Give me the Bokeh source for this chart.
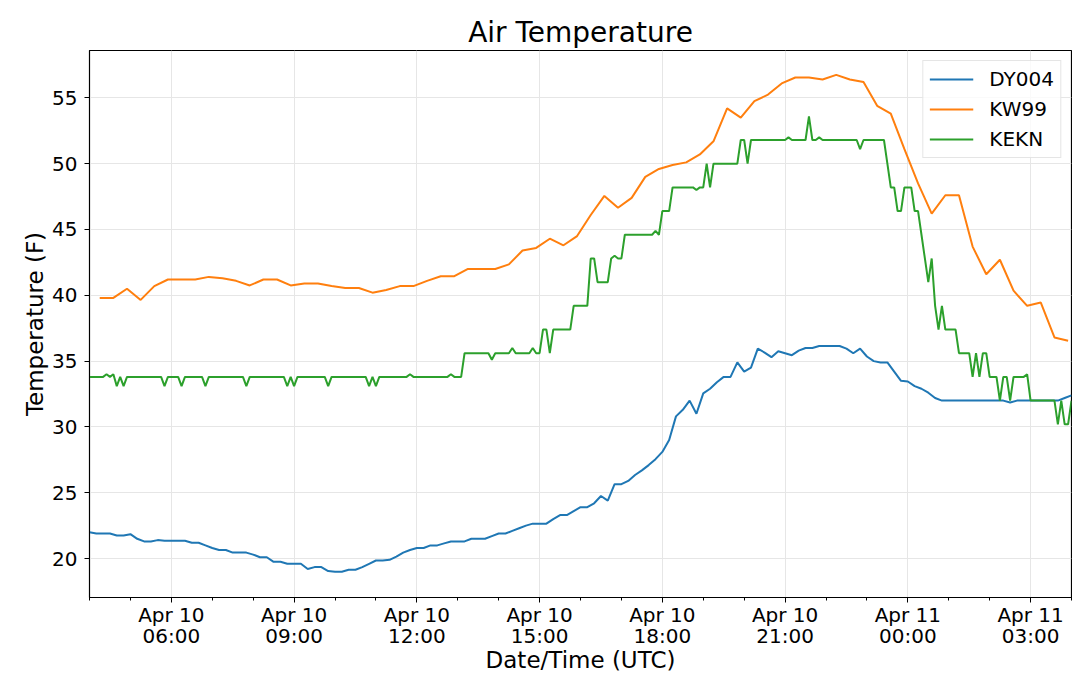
import pandas as pd
from bokeh.plotting import figure
from bokeh.models import Range1d, FixedTicker, DatetimeTickFormatter, Legend, LegendItem
from bokeh.embed import file_html
from bokeh.resources import INLINE

FONT = "DejaVu Sans"

# time window shown (UTC)
t_start = pd.Timestamp("2018-04-10 04:00")
t_end = pd.Timestamp("2018-04-11 04:00")

# DY004: 10-minute observations, 04:00 -> 04:00 (one row per hour)
dy004_temp = [
    22.0, 21.9, 21.9, 21.9, 21.75, 21.75,    # 04
    21.85, 21.5, 21.3, 21.3, 21.4, 21.35,    # 05
    21.35, 21.35, 21.35, 21.2, 21.2, 21.0,   # 06
    20.8, 20.65, 20.65, 20.45, 20.45, 20.45, # 07
    20.3, 20.1, 20.1, 19.75, 19.75, 19.6,    # 08
    19.6, 19.6, 19.2, 19.35, 19.35, 19.05,   # 09
    19.0, 19.0, 19.15, 19.15, 19.35, 19.6,   # 10
    19.85, 19.85, 19.9, 20.15, 20.45, 20.65, # 11
    20.8, 20.8, 21.0, 21.0, 21.15, 21.3,     # 12
    21.3, 21.3, 21.5, 21.5, 21.5, 21.7,      # 13
    21.9, 21.9, 22.1, 22.3, 22.5, 22.65,     # 14
    22.65, 22.65, 23.0, 23.3, 23.3, 23.6,    # 15
    23.9, 23.9, 24.2, 24.75, 24.4, 25.65,    # 16
    25.65, 25.9, 26.35, 26.7, 27.1, 27.55,   # 17
    28.1, 29.0, 30.8, 31.3, 32.0, 31.0,      # 18
    32.55, 32.9, 33.4, 33.8, 33.8, 34.9,     # 19
    34.2, 34.5, 35.95, 35.65, 35.3, 35.75,   # 20
    35.6, 35.45, 35.8, 36.0, 36.0, 36.15,    # 21
    36.15, 36.15, 36.15, 35.95, 35.6, 35.95, # 22
    35.35, 35.0, 34.9, 34.9, 34.2, 33.5,     # 23
    33.45, 33.1, 32.9, 32.6, 32.2, 32.0,     # 00
    32.0, 32.0, 32.0, 32.0, 32.0, 32.0,      # 01
    32.0, 32.0, 32.0, 31.85, 32.0, 32.0,     # 02
    32.0, 32.0, 32.0, 32.0, 32.0, 32.2,      # 03
    32.4,
]

# KW99: 20-minute observations at :15 :35 :55
kw99_temp = [
    39.8, 39.8, 40.5,     # 04
    39.65, 40.7, 41.2,    # 05
    41.2, 41.2, 41.4,     # 06
    41.3, 41.1, 40.75,    # 07
    41.2, 41.2, 40.75,    # 08
    40.9, 40.9, 40.7,     # 09
    40.55, 40.55, 40.2,   # 10
    40.4, 40.7, 40.7,     # 11
    41.1, 41.45, 41.45,   # 12
    42.0, 42.0, 42.0,     # 13
    42.35, 43.4, 43.6,    # 14
    44.3, 43.8, 44.5,     # 15
    46.1, 47.55, 46.65,   # 16
    47.4, 49.0, 49.6,     # 17
    49.9, 50.1, 50.7,     # 18
    51.7, 54.2, 53.5,     # 19
    54.75, 55.25, 56.1,   # 20
    56.55, 56.55, 56.4,   # 21
    56.75, 56.4, 56.2,    # 22
    54.4, 53.8, 51.1,     # 23
    48.5, 46.2, 47.6,     # 00
    47.6, 43.7, 41.6,     # 01
    42.7, 40.35, 39.2,    # 02
    39.45, 36.8, 36.55,   # 03
]

# KEKN: 5-minute observations, 04:00 -> 04:00
kekn_temp = [
    33.8, 33.8, 33.8, 33.8, 33.8, 34.0, 33.8, 34.0, 33.1, 33.8, 33.1, 33.8,  # 04
    33.8, 33.8, 33.8, 33.8, 33.8, 33.8, 33.8, 33.8, 33.8, 33.8, 33.1, 33.8,  # 05
    33.8, 33.8, 33.8, 33.1, 33.8, 33.8, 33.8, 33.8, 33.8, 33.8, 33.1, 33.8,  # 06
    33.8, 33.8, 33.8, 33.8, 33.8, 33.8, 33.8, 33.8, 33.8, 33.8, 33.1, 33.8,  # 07
    33.8, 33.8, 33.8, 33.8, 33.8, 33.8, 33.8, 33.8, 33.8, 33.8, 33.1, 33.8,  # 08
    33.1, 33.8, 33.8, 33.8, 33.8, 33.8, 33.8, 33.8, 33.8, 33.8, 33.1, 33.8,  # 09
    33.8, 33.8, 33.8, 33.8, 33.8, 33.8, 33.8, 33.8, 33.8, 33.8, 33.1, 33.8,  # 10
    33.1, 33.8, 33.8, 33.8, 33.8, 33.8, 33.8, 33.8, 33.8, 33.8, 34.0, 33.8,  # 11
    33.8, 33.8, 33.8, 33.8, 33.8, 33.8, 33.8, 33.8, 33.8, 33.8, 34.0, 33.8,  # 12
    33.8, 33.8, 35.6, 35.6, 35.6, 35.6, 35.6, 35.6, 35.6, 35.6, 35.1, 35.6,  # 13
    35.6, 35.6, 35.6, 35.6, 36.0, 35.6, 35.6, 35.6, 35.6, 35.6, 36.0, 35.6,  # 14
    35.6, 37.4, 37.4, 35.6, 37.4, 37.4, 37.4, 37.4, 37.4, 37.4, 39.2, 39.2,  # 15
    39.2, 39.2, 39.2, 42.8, 42.8, 41.0, 41.0, 41.0, 41.0, 42.8, 43.0, 42.8,  # 16
    42.8, 44.6, 44.6, 44.6, 44.6, 44.6, 44.6, 44.6, 44.6, 44.6, 44.9, 44.6,  # 17
    46.4, 46.4, 46.4, 48.2, 48.2, 48.2, 48.2, 48.2, 48.2, 48.2, 48.0, 48.2,  # 18
    48.2, 50.0, 48.2, 50.0, 50.0, 50.0, 50.0, 50.0, 50.0, 50.0, 50.0, 51.8,  # 19
    51.8, 50.0, 51.8, 51.8, 51.8, 51.8, 51.8, 51.8, 51.8, 51.8, 51.8, 51.8,  # 20
    51.8, 52.0, 51.8, 51.8, 51.8, 51.8, 51.8, 53.6, 51.8, 51.8, 52.0, 51.8,  # 21
    51.8, 51.8, 51.8, 51.8, 51.8, 51.8, 51.8, 51.8, 51.8, 51.8, 51.1, 51.8,  # 22
    51.8, 51.8, 51.8, 51.8, 51.8, 51.8, 50.0, 48.2, 48.2, 46.4, 46.4, 48.2,  # 23
    48.2, 48.2, 46.4, 46.4, 44.6, 42.8, 41.0, 42.8, 39.2, 37.4, 39.2, 37.4,  # 00
    37.4, 37.4, 37.4, 35.6, 35.6, 35.6, 35.6, 33.8, 35.6, 33.8, 35.6, 35.6,  # 01
    33.8, 33.8, 33.8, 32.0, 33.8, 33.8, 32.0, 33.8, 33.8, 33.8, 33.8, 34.0,  # 02
    32.0, 32.0, 32.0, 32.0, 32.0, 32.0, 32.0, 32.0, 30.2, 32.0, 30.2, 30.2,  # 03
    32.0,
]

dy004_time = pd.date_range("2018-04-10 04:00", periods=len(dy004_temp), freq="10min")
kw99_time = pd.date_range("2018-04-10 04:15", periods=len(kw99_temp), freq="20min")
kekn_time = pd.date_range("2018-04-10 04:00", periods=len(kekn_temp), freq="5min")

# axis ticks: labelled every 3 hours, small ticks every hour
major_ticks = pd.date_range("2018-04-10 06:00", "2018-04-11 03:00", freq="3h")
minor_ticks = pd.date_range(t_start, t_end, freq="1h")
y_ticks = [20, 25, 30, 35, 40, 45, 50, 55]


def to_ms(idx):
    return [int(t.value // 10**6) for t in idx]


p = figure(title="Air Temperature",
           width=1072, height=676,
           x_axis_type="datetime",
           x_range=Range1d(t_start, t_end),
           y_range=Range1d(17.04, 58.6),
           x_axis_label="Date/Time (UTC)",
           y_axis_label="Temperature (F)",
           output_backend="svg",
           toolbar_location=None,
           min_border_left=89, min_border_right=1,
           min_border_top=50, min_border_bottom=76)

colors = ["#1f77b4", "#ff7f0e", "#2ca02c"]
r1 = p.line(dy004_time, dy004_temp, color=colors[0], line_width=2)
r2 = p.line(kw99_time, kw99_temp, color=colors[1], line_width=2)
r3 = p.line(kekn_time, kekn_temp, color=colors[2], line_width=2)

# title
p.title.align = "center"
p.title.text_font = FONT
p.title.text_font_size = "28px"
p.title.text_font_style = "normal"
p.title.text_color = "black"
p.title.standoff = 4

# frame
p.outline_line_color = "black"
p.outline_line_width = 1.2
p.background_fill_color = "white"
p.border_fill_color = "white"

# axes
p.xaxis.ticker = FixedTicker(ticks=to_ms(major_ticks), minor_ticks=to_ms(minor_ticks))
fmt = "%b %d\n%H:%M"
p.xaxis.formatter = DatetimeTickFormatter(hours=fmt, hourmin=fmt, days=fmt, minutes=fmt,
                                          minsec=fmt, seconds=fmt, months=fmt)
p.yaxis.ticker = FixedTicker(ticks=y_ticks)
for ax in (p.xaxis, p.yaxis):
    ax.axis_line_color = "black"
    ax.major_tick_line_color = "black"
    ax.minor_tick_line_color = "black"
    ax.major_tick_out = 5
    ax.major_tick_in = 0
    ax.minor_tick_out = 3
    ax.minor_tick_in = 0
    ax.major_label_text_font = FONT
    ax.major_label_text_font_size = "20px"
    ax.major_label_text_color = "black"
    ax.axis_label_text_font = FONT
    ax.axis_label_text_font_size = "23px"
    ax.axis_label_text_font_style = "normal"
    ax.axis_label_text_color = "black"
p.yaxis.minor_tick_line_color = None
p.xaxis.major_label_text_line_height = 0.9
p.xaxis.major_label_standoff = 0
p.xaxis.axis_label_standoff = -4
p.yaxis.major_label_standoff = 7
p.yaxis.axis_label_standoff = 1

# grid
p.xgrid.ticker = FixedTicker(ticks=to_ms(major_ticks))
for g in (p.xgrid, p.ygrid):
    g.grid_line_color = "#e6e6e6"
    g.grid_line_width = 1

legend = Legend(items=[LegendItem(label="DY004", renderers=[r1]),
                       LegendItem(label="KW99", renderers=[r2]),
                       LegendItem(label="KEKN", renderers=[r3])],
                location="top_right")
legend.label_text_font = FONT
legend.label_text_font_size = "20px"
legend.label_text_color = "black"
legend.border_line_color = "#cccccc"
legend.border_line_width = 1
legend.background_fill_alpha = 0.8
legend.glyph_width = 44
legend.glyph_height = 22
legend.label_standoff = 16
legend.spacing = 6
legend.padding = 6
legend.margin = 10
p.add_layout(legend)

open("out.html", "w").write(file_html(p, INLINE))
